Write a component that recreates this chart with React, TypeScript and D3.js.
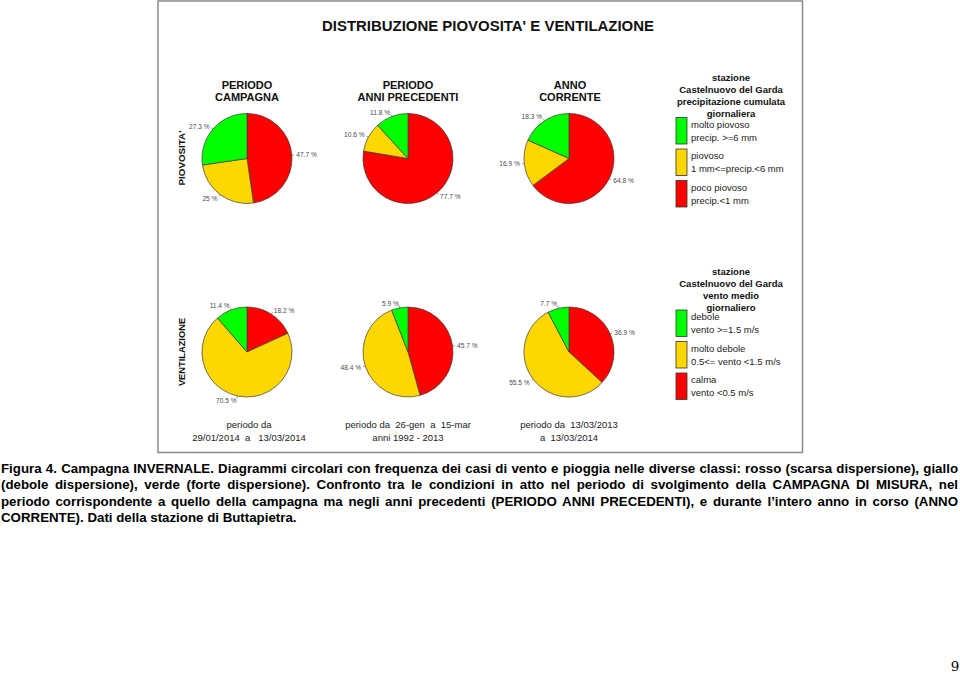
import React, { useRef, useState, useLayoutEffect } from "react";
import * as d3 from "d3";

// ---------- DATA ----------
const panels = ["campagna", "precedenti", "corrente"];
const panelTitles = [
  ["PERIODO", "CAMPAGNA"],
  ["PERIODO", "ANNI PRECEDENTI"],
  ["ANNO", "CORRENTE"],
];
const rainRed = [47.7, 77.7, 64.8];
const rainYellow = [25, 10.6, 16.9];
const rainGreen = [27.3, 11.8, 18.3];
const windRed = [18.2, 45.7, 36.9];
const windYellow = [70.5, 48.4, 55.5];
const windGreen = [11.4, 5.9, 7.7];
const periodLines = [
  ["periodo da", "29/01/2014  a   13/03/2014"],
  ["periodo da  26-gen  a  15-mar", "anni 1992 - 2013"],
  ["periodo da  13/03/2013", "a  13/03/2014"],
];
const rainLegendTitle = ["stazione", "Castelnuovo del Garda", "precipitazione cumulata", "giornaliera"];
const rainLegendItems = [
  ["molto piovoso", "precip. >=6 mm"],
  ["piovoso", "1 mm<=precip.<6 mm"],
  ["poco piovoso", "precip.<1 mm"],
];
const windLegendTitle = ["stazione", "Castelnuovo del Garda", "vento medio", "giornaliero"];
const windLegendItems = [
  ["debole", "vento >=1.5 m/s"],
  ["molto debole", "0.5<= vento <1.5 m/s"],
  ["calma", "vento <0.5 m/s"],
];
const chartTitle = "DISTRIBUZIONE PIOVOSITA' E VENTILAZIONE";
const captionLines = [
  "Figura 4. Campagna INVERNALE. Diagrammi circolari con frequenza dei casi di vento e pioggia nelle diverse classi: rosso (scarsa dispersione), giallo",
  "(debole dispersione), verde (forte dispersione). Confronto tra le condizioni in atto nel periodo di svolgimento della CAMPAGNA DI MISURA, nel",
  "periodo corrispondente a quello della campagna ma negli anni precedenti (PERIODO ANNI PRECEDENTI), e durante l\u2019intero anno in corso (ANNO",
  "CORRENTE). Dati della stazione di Buttapietra.",
];
const pageNumber = "9";

// ---------- STYLE ----------
const RED = "#FF0000";
const YELLOW = "#FFD700";
const GREEN = "#00FF00";
const classColors = [RED, YELLOW, GREEN];
const legendColors = [GREEN, YELLOW, RED];
const FONT = "'Liberation Sans', Arial, Helvetica, sans-serif";

const xScale = d3.scalePoint<string>().domain(panels).range([247, 569]);
const R = 45;

type Row = { key: string; values: number[][]; cy: number };

function Pie({ cx, cy, values }: { cx: number; cy: number; values: number[] }) {
  const data = values.map((v, i) => ({ v, i }));
  const pie = d3
    .pie<{ v: number; i: number }>()
    .sort(null)
    .value((d) => d.v)
    .startAngle(0)
    .endAngle(2 * Math.PI);
  const arcs = pie(data);
  const arc = d3.arc<d3.PieArcDatum<{ v: number; i: number }>>().innerRadius(0).outerRadius(R);
  return (
    <g transform={`translate(${cx},${cy})`}>
      {arcs.map((a) => (
        <path key={a.data.i} d={arc(a) || ""} fill={classColors[a.data.i]} stroke="#3a3a3a" strokeWidth={0.7} />
      ))}
      {arcs.map((a) => {
        const mid = (a.startAngle + a.endAngle) / 2;
        const sx = Math.sin(mid);
        const sy = -Math.cos(mid);
        const lx = sx * R * 1.1;
        const ly = sy * R * 1.1;
        return (
          <g key={"l" + a.data.i}>
            <line x1={sx * R} y1={sy * R} x2={sx * R * 1.05} y2={sy * R * 1.05} stroke="#555" strokeWidth={0.6} />
            <text
              x={lx}
              y={ly}
              fontSize={6.6}
              fill="#4a4a4a"
              fontFamily={FONT}
              textAnchor={sx >= 0 ? "start" : "end"}
              dominantBaseline="central"
            >
              {`${a.data.v} %`}
            </text>
          </g>
        );
      })}
    </g>
  );
}

function Legend({ title, items, top, boxTop }: { title: string[]; items: string[][]; top: number; boxTop: number }) {
  return (
    <g fontFamily={FONT}>
      {title.map((t, i) => (
        <text key={t} x={731} y={top + i * 12} fontSize={9.5} fontWeight="bold" textAnchor="middle" fill="#111">
          {t}
        </text>
      ))}
      {items.map((it, i) => {
        const by = boxTop + i * 31.5;
        return (
          <g key={i}>
            <rect x={676} y={by} width={11} height={26.5} fill={legendColors[i]} stroke="#333" strokeWidth={0.8} />
            <text x={691} y={by + 13.25 - 6.5} fontSize={9.5} dominantBaseline="central" fill="#222">
              {it[0]}
            </text>
            <text x={691} y={by + 13.25 + 6.5} fontSize={9.5} dominantBaseline="central" fill="#222">
              {it[1]}
            </text>
          </g>
        );
      })}
    </g>
  );
}

function JustifiedLine({ text, y, width, justify }: { text: string; y: number; width: number; justify: boolean }) {
  const ref = useRef<SVGTextElement>(null);
  const [ws, setWs] = useState(0);
  useLayoutEffect(() => {
    if (!justify || !ref.current) return;
    ref.current.style.wordSpacing = "0px";
    const natural = ref.current.getComputedTextLength();
    const spaces = (text.match(/ /g) || []).length;
    if (spaces > 0) setWs((width - natural) / spaces);
    ref.current.style.wordSpacing = "";
  }, [text, width, justify]);
  return (
    <text
      ref={ref}
      x={1}
      y={y}
      fontSize={13.3}
      fontWeight="bold"
      fontFamily={FONT}
      fill="#000"
      style={{ wordSpacing: `${ws}px` }}
    >
      {text}
    </text>
  );
}

export default function App() {
  const rows: Row[] = [
    { key: "rain", values: panels.map((_, i) => [rainRed[i], rainYellow[i], rainGreen[i]]), cy: 158.5 },
    { key: "wind", values: panels.map((_, i) => [windRed[i], windYellow[i], windGreen[i]]), cy: 352 },
  ];
  return (
    <svg
      width={960}
      height={674}
      viewBox="0 0 960 674"
      style={{ position: "absolute", left: 0, top: 0, background: "#fff" }}
    >
      <rect x={0} y={0} width={960} height={674} fill="#fff" />
      <rect x={158} y={1} width={644.5} height={451.5} fill="#fff" stroke="#8a8a8a" strokeWidth={1.5} />
      <text
        x={488}
        y={31}
        fontSize={14.5}
        fontWeight="bold"
        fontFamily={FONT}
        textAnchor="middle"
        textLength={332}
        lengthAdjust="spacingAndGlyphs"
        fill="#111"
      >
        {chartTitle}
      </text>

      {panels.map((p, i) => (
        <g key={p} fontFamily={FONT} fontWeight="bold" fontSize={11} textAnchor="middle" fill="#111">
          <text x={xScale(p)! + (i === 2 ? 1 : 0)} y={88.5}>
            {panelTitles[i][0]}
          </text>
          <text x={xScale(p)! + (i === 2 ? 1 : 0)} y={101}>
            {panelTitles[i][1]}
          </text>
        </g>
      ))}

      <text
        transform="translate(185,158) rotate(-90)"
        fontSize={9.8}
        fontWeight="bold"
        fontFamily={FONT}
        textAnchor="middle"
        fill="#111"
      >
        PIOVOSITA'
      </text>
      <text
        transform="translate(185,352) rotate(-90)"
        fontSize={9.3}
        fontWeight="bold"
        fontFamily={FONT}
        textAnchor="middle"
        fill="#111"
      >
        VENTILAZIONE
      </text>

      {rows.map((row) =>
        panels.map((p, i) => <Pie key={row.key + p} cx={xScale(p)!} cy={row.cy} values={row.values[i]} />)
      )}

      <Legend title={rainLegendTitle} items={rainLegendItems} top={81} boxTop={117.5} />
      <Legend title={windLegendTitle} items={windLegendItems} top={274.5} boxTop={310} />

      {panels.map((p, i) => (
        <g key={"per" + p} fontFamily={FONT} fontSize={9.5} textAnchor="middle" fill="#222" style={{ whiteSpace: "pre" }}>
          <text x={xScale(p)! + (i === 0 ? 2 : 0)} y={427.5} xmlSpace="preserve">
            {periodLines[i][0]}
          </text>
          <text x={xScale(p)! + (i === 0 ? 2 : 0)} y={440.5} xmlSpace="preserve">
            {periodLines[i][1]}
          </text>
        </g>
      ))}

      {captionLines.map((t, i) => (
        <JustifiedLine key={i} text={t} y={473 + i * 16.4} width={957} justify={i < captionLines.length - 1} />
      ))}

      <text x={955} y={671} fontSize={13.5} fontFamily="'DejaVu Serif', 'Liberation Serif', serif" textAnchor="middle" fill="#000">
        {pageNumber}
      </text>
    </svg>
  );
}
